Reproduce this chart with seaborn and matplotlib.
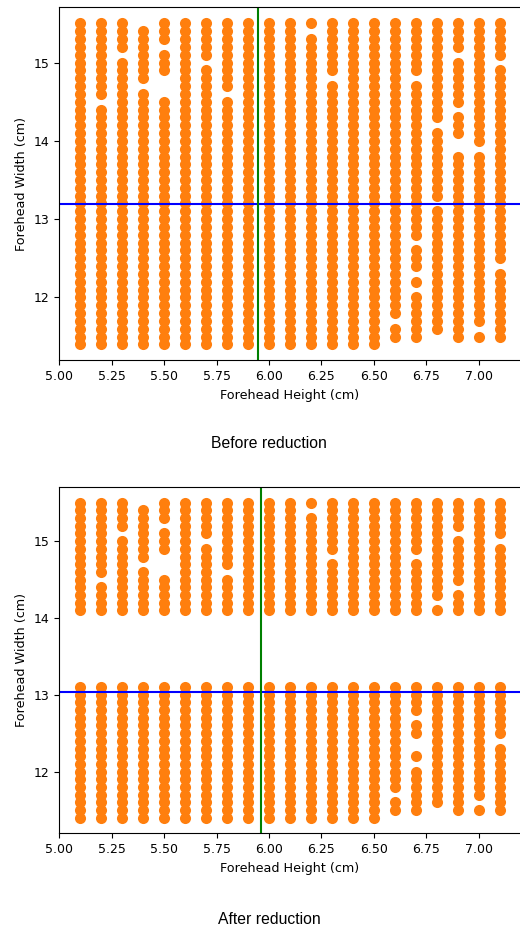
import numpy as np
import pandas as pd
import seaborn as sns
import matplotlib
matplotlib.use("Agg")  # non-interactive backend
import matplotlib.pyplot as plt

# Grid of measured values (cm)
HEIGHTS = [5.1, 5.2, 5.3, 5.4, 5.5, 5.6, 5.7, 5.8, 5.9, 6.0, 6.1,
           6.2, 6.3, 6.4, 6.5, 6.6, 6.7, 6.8, 6.9, 7.0, 7.1]
WIDTHS = [11.4, 11.5, 11.6, 11.7, 11.8, 11.9, 12.0, 12.1, 12.2, 12.3, 12.4,
          12.5, 12.6, 12.7, 12.8, 12.9, 13.0, 13.1, 13.2, 13.3, 13.4, 13.5,
          13.6, 13.7, 13.8, 13.9, 14.0, 14.1, 14.2, 14.3, 14.4, 14.5, 14.6,
          14.7, 14.8, 14.9, 15.0, 15.1, 15.2, 15.3, 15.4, 15.5]

# widths that do not occur for a given height
MISSING_BEFORE = {
    5.2: [14.5],
    5.3: [15.1],
    5.4: [15.5, 14.7],
    5.5: [15.2, 14.8, 14.7, 14.6],
    5.7: [15.0],
    5.8: [14.6],
    6.2: [15.4],
    6.3: [14.8],
    6.6: [11.7, 11.4],
    6.7: [14.8, 12.7, 12.3, 12.1, 11.4],
    6.8: [14.2, 13.2, 11.5, 11.4],
    6.9: [15.1, 14.4, 14.0, 13.9, 11.4],
    7.0: [13.9, 11.6, 11.4],
    7.1: [15.0, 12.4, 11.4],
}
MISSING_AFTER = {
    5.2: [14.5],
    5.3: [15.1],
    5.4: [15.5, 14.7],
    5.5: [15.2, 14.8, 14.7, 14.6],
    5.7: [15.0],
    5.8: [14.6],
    6.2: [15.4],
    6.3: [14.8],
    6.6: [11.7, 11.4],
    6.7: [14.8, 12.7, 12.4, 12.3, 12.1, 11.4],
    6.8: [14.2, 11.5, 11.4],
    6.9: [15.1, 14.4, 11.4],
    7.0: [11.6, 11.4],
    7.1: [15.0, 12.4, 11.4],
}
# band of widths dropped by the reduction
REMOVED_WIDTHS = [13.2, 13.3, 13.4, 13.5, 13.6, 13.7, 13.8, 13.9, 14.0]

# mean lines
MEAN_WIDTH_BEFORE = 13.19
MEAN_HEIGHT_BEFORE = 5.95
MEAN_WIDTH_AFTER = 13.04
MEAN_HEIGHT_AFTER = 5.963


def build(missing, removed=()):
    rows = []
    drop = {round(w, 1) for w in removed}
    for h in HEIGHTS:
        skip = {round(w, 1) for w in missing.get(h, [])} | drop
        for w in WIDTHS:
            if round(w, 1) not in skip:
                rows.append((h, w))
    return pd.DataFrame(rows, columns=["forehead_height_cm", "forehead_width_cm"])


df_before = build(MISSING_BEFORE)
df_after = build(MISSING_AFTER, REMOVED_WIDTHS)

fig = plt.figure(figsize=(5.2, 9.27), dpi=100)
ax1 = fig.add_axes([59.3 / 520, (927 - 360.4) / 927, 461.3 / 520, 353 / 927])
ax2 = fig.add_axes([59.3 / 520, (927 - 833.4) / 927, 461.3 / 520, 346.4 / 927])

panels = [
    (ax1, df_before, MEAN_WIDTH_BEFORE, MEAN_HEIGHT_BEFORE, "Before reduction", 444),
    (ax2, df_after, MEAN_WIDTH_AFTER, MEAN_HEIGHT_AFTER, "After reduction", 919),
]
for ax, df, mw, mh, caption, cap_y in panels:
    sns.scatterplot(data=df, x="forehead_height_cm", y="forehead_width_cm",
                    color="#ff7f0e", s=64, linewidth=0, ax=ax)
    ax.axhline(mw, color="b", lw=1.5)
    ax.axvline(mh, color="g", lw=1.5)
    ax.set_xlabel("Forehead Height (cm)", fontsize=9.2)
    ax.set_ylabel("Forehead Width (cm)", fontsize=9.2)
    ax.tick_params(labelsize=9)
    fig.text(269 / 520, 1 - cap_y / 927, caption, ha="center", va="center",
             family=["Liberation Sans", "DejaVu Sans"], fontsize=11.3)

fig.savefig("out.png", dpi=100)
plt.close(fig)
